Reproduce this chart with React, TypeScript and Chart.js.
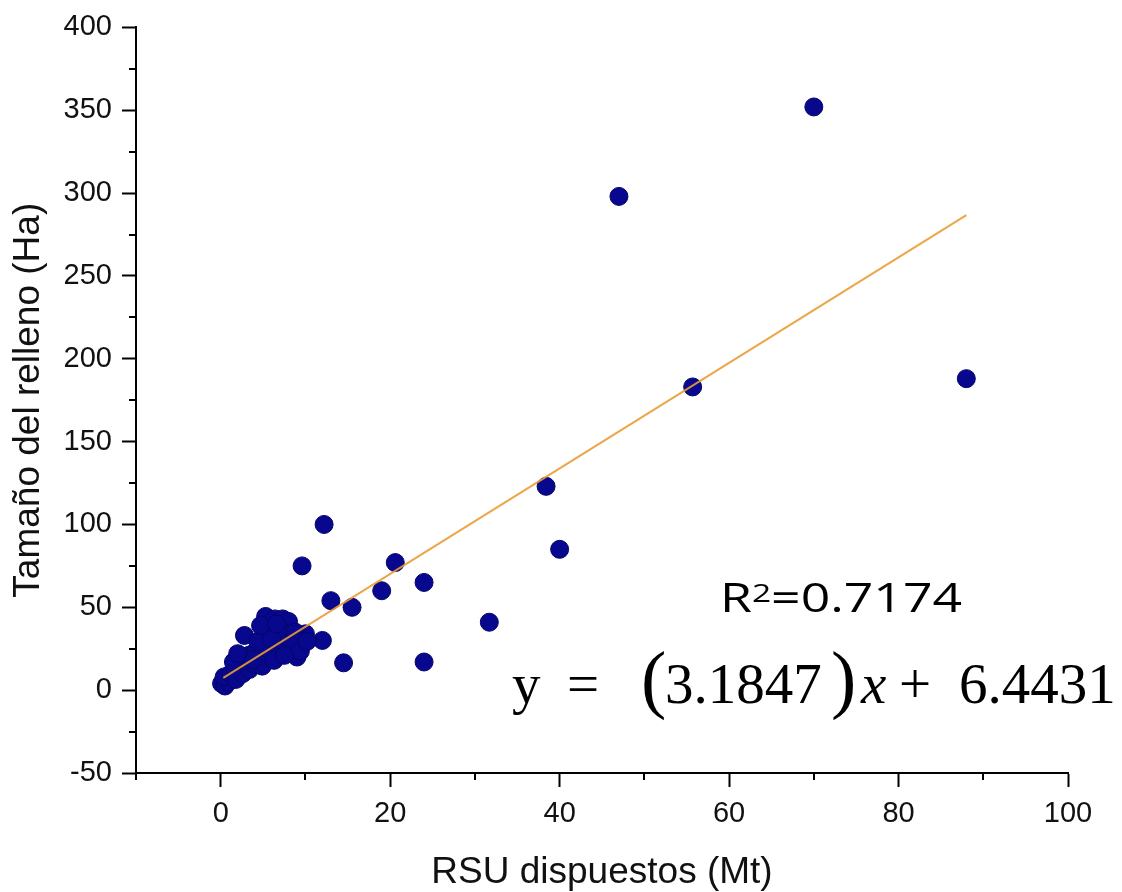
import React, { useEffect, useRef } from 'react';
import { Chart, registerables } from 'chart.js';

Chart.register(...registerables);

// RSU dispuestos (Mt)
const rsuValues = [
  70, 47, 55.7, 88, 38.4, 40, 12.2, 9.6, 20.6, 24, 19, 13, 15.5, 31.7, 12, 14.5, 24, 9, 10,
  0.1, 0.5, 0.9, 0.4, 1.2, 1.7, 2.2, 1.8, 2.6, 3.4, 2.9, 4.0, 3.3, 2.8, 4.2, 4.9, 5.2, 5.6,
  5.3, 6.4, 7.3, 8.0, 6.1, 7.0, 7.8, 8.8, 9.4, 6.8, 5.6, 4.4, 8.4, 9.4, 10.2, 4.9, 6.3, 7.5,
  6.0, 3.8, 1.5, 2.0, 4.7, 6.6,
];
// Tamaño del relleno (Ha)
const areaValues = [
  352, 298, 183, 188, 123, 85, 100, 75, 77, 65, 60, 54, 50, 41, 30, 16.5, 17, 20, 34,
  4, 2.5, 5, 8, 10, 13, 16, 6.5, 10, 12.5, 18, 15.5, 21, 33, 24, 27, 34, 40,
  44.5, 43, 43, 41.5, 36, 37, 34, 35, 29.5, 29.5, 24.5, 29.5, 26.5, 23.5, 29.5, 14.5, 18, 21,
  31, 18.5, 17, 22, 39, 40,
];

// Fitted line endpoints (as drawn)
const trendX = [0.3, 88];
const trendY = [7.4, 286.7];

const xTickValues = [0, 20, 40, 60, 80, 100];
const yTickValues = [-50, 0, 50, 100, 150, 200, 250, 300, 350, 400];
const xMinorValues = [-10, 10, 30, 50, 70, 90];
const yMinorValues = [-25, 25, 75, 125, 175, 225, 275, 325, 375];

const r2Label = 'R';
const r2Sup = '2';
const r2Value = '=0.7174';
const eqParts = ['y', '=', '(', '3.1847', ')', 'x', '+', '6.4431'];

const minorTicksPlugin = {
  id: 'minorTicks',
  afterDraw(chart: any) {
    const { ctx, scales } = chart;
    const xs = scales.x;
    const ys = scales.y;
    ctx.save();
    ctx.strokeStyle = '#000';
    ctx.lineWidth = 2;
    xMinorValues.forEach((v) => {
      const px = Math.round(xs.getPixelForValue(v));
      ctx.beginPath();
      ctx.moveTo(px, xs.top);
      ctx.lineTo(px, xs.top + 7);
      ctx.stroke();
    });
    yMinorValues.forEach((v) => {
      const py = Math.round(ys.getPixelForValue(v));
      ctx.beginPath();
      ctx.moveTo(ys.right, py);
      ctx.lineTo(ys.right - 7, py);
      ctx.stroke();
    });
    ctx.restore();
  },
};

const annotationPlugin = {
  id: 'annotations',
  afterDraw(chart: any) {
    const { ctx } = chart;
    ctx.save();
    ctx.fillStyle = '#000';
    ctx.textBaseline = 'alphabetic';
    ctx.textAlign = 'left';

    // R² = 0.7174 (stretched to the reference width)
    const mainFont = '500 40px "Open Sans"';
    const supFont = '500 26px "Open Sans"';
    ctx.font = mainFont;
    const wR = ctx.measureText(r2Label).width;
    const wV = ctx.measureText(r2Value).width;
    ctx.font = supFont;
    const wS = ctx.measureText(r2Sup).width;
    const natural = wR + wS + wV;
    const target = 242;
    const sx = target / natural;
    ctx.translate(720, 612);
    ctx.scale(sx, 1);
    ctx.font = mainFont;
    ctx.fillText(r2Label, 0, 0);
    ctx.font = supFont;
    ctx.fillText(r2Sup, wR, -10);
    ctx.font = mainFont;
    ctx.fillText(r2Value, wR + wS, 0);
    ctx.setTransform(1, 0, 0, 1, 0, 0);

    // Equation
    const serif = '57px "Liberation Serif", "Times New Roman", serif';
    const serifItalic = 'italic 57px "Liberation Serif", "Times New Roman", serif';
    const paren = '76px "Liberation Serif", "Times New Roman", serif';
    const base = 703;
    const xs = [512, 567, 641, 665, 831, 861, 899, 959];
    const fonts = [serif, serif, paren, serif, paren, serifItalic, serif, serif];
    eqParts.forEach((t, i) => {
      ctx.font = fonts[i];
      ctx.fillText(t, xs[i], i === 2 || i === 4 ? base + 1 : base);
    });
    ctx.restore();
  },
};

export default function App() {
  const canvasRef = useRef<HTMLCanvasElement | null>(null);

  useEffect(() => {
    if (!canvasRef.current) return;
    const points = rsuValues.map((x, i) => ({ x, y: areaValues[i] }));
    const trend = trendX.map((x, i) => ({ x, y: trendY[i] }));
    const tickFont = { family: '"Liberation Sans", Arial, sans-serif', size: 29 };
    const titleFont = { family: '"Liberation Sans", Arial, sans-serif', size: 37, lineHeight: 1 };

    const chart = new Chart(canvasRef.current, {
      type: 'scatter',
      data: {
        datasets: [
          {
            type: 'line',
            label: 'Ajuste',
            data: trend,
            borderColor: 'rgba(234,156,52,0.9)',
            borderWidth: 2,
            pointRadius: 0,
            fill: false,
            order: 0,
          } as any,
          {
            label: 'Rellenos',
            data: points,
            backgroundColor: '#08088f',
            borderColor: '#05056a',
            borderWidth: 1,
            pointRadius: 9,
            order: 1,
          },
        ],
      },
      plugins: [minorTicksPlugin, annotationPlugin],
      options: {
        animation: false,
        responsive: false,
        devicePixelRatio: 1,
        layout: { padding: { left: 0, right: 54, top: 24, bottom: 0 } },
        plugins: {
          legend: { display: false },
          tooltip: { enabled: false },
        },
        scales: {
          x: {
            type: 'linear',
            min: -10,
            max: 100,
            afterBuildTicks: (scale: any) => {
              scale.ticks = xTickValues.map((v) => ({ value: v }));
            },
            afterFit: (scale: any) => {
              scale.height = 119;
            },
            ticks: {
              font: tickFont,
              color: '#111',
              padding: 10,
              maxRotation: 0,
              autoSkip: false,
              callback: (v: any) => String(v),
            },
            grid: {
              drawOnChartArea: false,
              drawTicks: true,
              tickLength: 14,
              tickWidth: 2,
              tickColor: '#000',
              color: '#000',
            },
            border: { display: true, color: '#000', width: 2 },
            title: {
              display: true,
              text: 'RSU dispuestos (Mt)',
              font: titleFont,
              color: '#111',
              padding: { top: 0, bottom: 1 },
            },
          },
          y: {
            type: 'linear',
            min: -50,
            max: 400,
            afterBuildTicks: (scale: any) => {
              scale.ticks = yTickValues.map((v) => ({ value: v }));
            },
            afterFit: (scale: any) => {
              scale.width = 136;
            },
            ticks: {
              font: tickFont,
              color: '#111',
              padding: 10,
              autoSkip: false,
              callback: (v: any) => String(v),
            },
            grid: {
              drawOnChartArea: false,
              drawTicks: true,
              tickLength: 14,
              tickWidth: 2,
              tickColor: '#000',
              color: '#000',
            },
            border: { display: true, color: '#000', width: 2 },
            title: {
              display: true,
              text: 'Tamaño del relleno (Ha)',
              font: titleFont,
              color: '#111',
              padding: { top: 10.5, bottom: 0 },
            },
          },
        },
      },
    });
    return () => chart.destroy();
  }, []);

  return (
    <div style={{ position: 'absolute', left: 0, top: 0, width: 1122, height: 892, background: '#fff' }}>
      <canvas ref={canvasRef} width={1122} height={892} style={{ display: 'block' }} />
    </div>
  );
}
